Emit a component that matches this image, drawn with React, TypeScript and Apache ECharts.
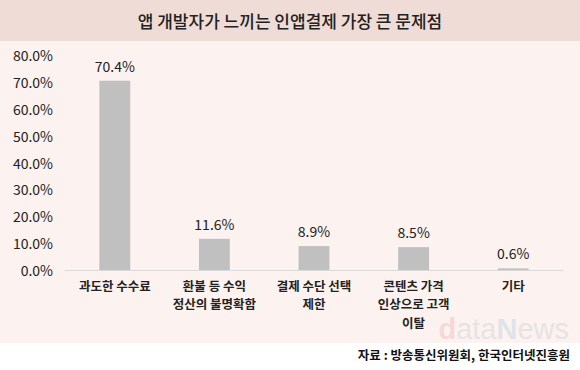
import React, { useEffect, useRef } from "react";
import * as echarts from "echarts";

const categories = [
  "과도한 수수료",
  "환불 등 수익\n정산의 불명확함",
  "결제 수단 선택\n제한",
  "콘텐츠 가격\n인상으로 고객\n이탈",
  "기타",
];
const values = [70.4, 11.6, 8.9, 8.5, 0.6];
const yTicks = [0, 10, 20, 30, 40, 50, 60, 70, 80];
const titleText = "앱 개발자가 느끼는 인앱결제 가장 큰 문제점";
const sourceText = "자료 : 방송통신위원회, 한국인터넷진흥원";

const FONT = "'Noto Sans CJK KR', 'Noto Sans', sans-serif";

export default function App() {
  const ref = useRef<HTMLDivElement>(null);
  useEffect(() => {
    if (!ref.current) return;
    const chart = echarts.init(ref.current, undefined, { renderer: "svg" });
    chart.setOption({
      animation: false,
      backgroundColor: "#ffffff",
      textStyle: { fontFamily: FONT },
      graphic: [
        { type: "rect", z: -10, shape: { x: 0, y: 0, width: 580, height: 41 }, style: { fill: "#efdcd6" } },
        { type: "rect", z: -10, shape: { x: 0, y: 41, width: 580, height: 302 }, style: { fill: "#fcf2f0" } },
        {
          type: "text",
          x: 290,
          y: 20,
          style: {
            text: titleText,
            fontFamily: FONT,
            fontSize: 17,
            fontWeight: 500,
            fill: "#222222",
            align: "center",
            verticalAlign: "middle",
          },
        },
        {
          type: "text",
          x: 569,
          y: 329,
          z: -5,
          style: {
            text: "{d|d}{a|ata}{n|N}{a|ews}",
            align: "right",
            verticalAlign: "middle",
            rich: {
              d: { fontFamily: "'Liberation Sans', sans-serif", fontSize: 29, lineHeight: 20, fontWeight: "bold", fill: "#f6d8d6" },
              a: { fontFamily: "'Liberation Sans', sans-serif", fontSize: 29, lineHeight: 20, fill: "#e8e3e3" },
              n: { fontFamily: "'Liberation Sans', sans-serif", fontSize: 29, lineHeight: 20, fontWeight: "bold", fill: "#dfe3ea" },
            },
          },
        },
        {
          type: "text",
          x: 570,
          y: 354,
          style: {
            text: sourceText,
            fontFamily: FONT,
            fontSize: 12.5,
            fontWeight: "bold",
            fill: "#111111",
            align: "right",
            verticalAlign: "middle",
          },
        },
      ],
      grid: { left: 65, right: 17, top: 55, height: 215, containLabel: false },
      xAxis: {
        type: "category",
        data: categories,
        axisLine: { show: true, lineStyle: { color: "#d9d9d9", width: 1 } },
        axisTick: { show: false },
        axisLabel: {
          interval: 0,
          color: "#222222",
          fontFamily: FONT,
          fontSize: 12.5,
          fontWeight: "bold",
          lineHeight: 18.5,
          margin: 6,
        },
      },
      yAxis: {
        type: "value",
        min: yTicks[0],
        max: yTicks[yTicks.length - 1],
        interval: 10,
        splitLine: { show: false },
        axisLine: { show: false },
        axisTick: { show: false },
        axisLabel: {
          color: "#222222",
          fontFamily: FONT,
          fontSize: 14,
          margin: 12,
          formatter: (v: number) => v.toFixed(1) + "%",
        },
      },
      series: [
        {
          type: "bar",
          data: values,
          barWidth: "31%",
          itemStyle: { color: "#c0c0c0" },
          label: {
            show: true,
            position: "top",
            distance: 8,
            color: "#222222",
            fontFamily: FONT,
            fontSize: 14,
            formatter: (p: any) => p.value.toFixed(1) + "%",
          },
        },
      ],
    });
    return () => chart.dispose();
  }, []);
  return (
    <div
      ref={ref}
      style={{ position: "fixed", left: 0, top: 0, width: 580, height: 370 }}
    />
  );
}
